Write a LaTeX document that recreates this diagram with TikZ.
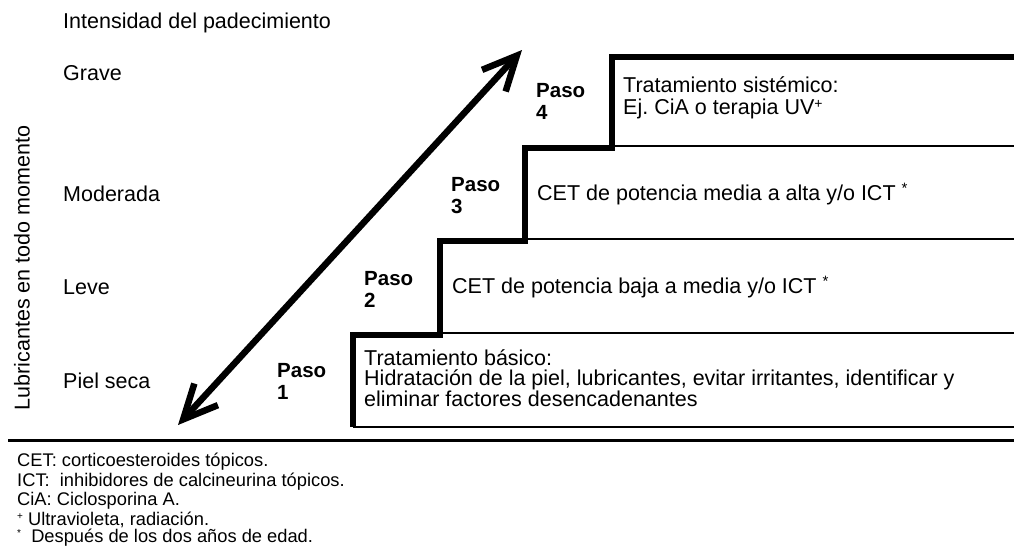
\documentclass[tikz,border=0pt]{standalone}
\usepackage{fontspec}
\setmainfont{Liberation Sans}
\usepackage{tikz}
\usetikzlibrary{arrows.meta,positioning}
\frenchspacing

\newcommand{\notemark}[1]{\raisebox{6pt}{\fontsize{10}{10}\selectfont#1}}

\tikzset{
  lvl/.style={anchor=west,inner sep=0pt,align=left},
  paso/.style={anchor=west,inner sep=0pt,align=left,font=\fontsize{20.5}{22}\selectfont\bfseries},
  stepbody/.style={anchor=west,inner sep=0pt,align=left},
  note/.style={anchor=west,inner sep=0pt,font=\fontsize{18.3}{19}\selectfont},
  stairline/.style={line width=6pt,line join=miter},
  sepline/.style={line width=2pt},
  dblarrow/.style={line width=6.5pt,line cap=round,line join=round,
    {Straight Barb[length=34pt,width=32pt]}-{Straight Barb[length=34pt,width=32pt]}}
}

\begin{document}
\begin{tikzpicture}[x=1pt,y=-1pt,every node/.style={font=\fontsize{21.5}{20}\selectfont}]
  \useasboundingbox (0,0) rectangle (1014,550);

  % ejes de intensidad
  \node[lvl] (intens) at (63,23) {Intensidad del padecimiento};
  \node[lvl] (grave) at (63,73) {Grave};
  \node[lvl] (moder) at (63,194) {Moderada};
  \node[lvl] (leve) at (63,287) {Leve};
  \node[lvl] (seca) at (63,381) {Piel seca};
  \node[rotate=90,inner sep=0pt] (lubric) at (22,268) {Lubricantes en todo momento};

  % escalera
  \draw[stairline] (353,427) |- (440,335) |- (525,241) |- (612,148) |- (1014,57);
  \draw[sepline] (612,146) -- (1014,146);
  \draw[sepline] (525,239) -- (1014,239);
  \draw[sepline] (440,333) -- (1014,333);
  \draw[sepline] (353,427) -- (1014,427);
  \draw[line width=3pt] (8,440) -- (1014,440);

  % pasos
  \node[paso] (paso4) at (536,101) {Paso\\4};
  \node[paso] (paso3) at (451,196) {Paso\\3};
  \node[paso] (paso2) at (364,289) {Paso\\2};
  \node[paso] (paso1) at (277,381) {Paso\\1};

  \node[stepbody,font=\fontsize{21.5}{22}\selectfont] (trat4) at (623,98) {Tratamiento sistémico:\\Ej. CiA o terapia UV\notemark{\fontsize{14}{14}\selectfont+}};
  \node[stepbody] (trat3) at (537,194) {CET de potencia media a alta y/o ICT \textsuperscript{*}};
  \node[stepbody] (trat2) at (452,287) {CET de potencia baja a media y/o ICT \textsuperscript{*}};
  \node[stepbody] (trat1) at (364,378) {Tratamiento básico:\\Hidratación de la piel, lubricantes, evitar irritantes, identificar y\\eliminar factores desencadenantes};

  % flecha doble
  \coordinate (bajo) at (178,425);
  \coordinate (alto) at (522,50);
  \draw[dblarrow] (bajo) -- (alto);

  % notas
  \node[note] (n1) at (17,462) {CET: corticoesteroides tópicos.};
  \node[note] (n2) at (17,482) {ICT:\ \ inhibidores de calcineurina tópicos.};
  \node[note] (n3) at (17,501) {CiA: Ciclosporina A.};
  \node[note] (n4) at (17,520) {\notemark{+} Ultravioleta, radiación.};
  \node[note] (n5) at (17,538) {\notemark{*}\ \ Después de los dos años de edad.};
\end{tikzpicture}
\end{document}
